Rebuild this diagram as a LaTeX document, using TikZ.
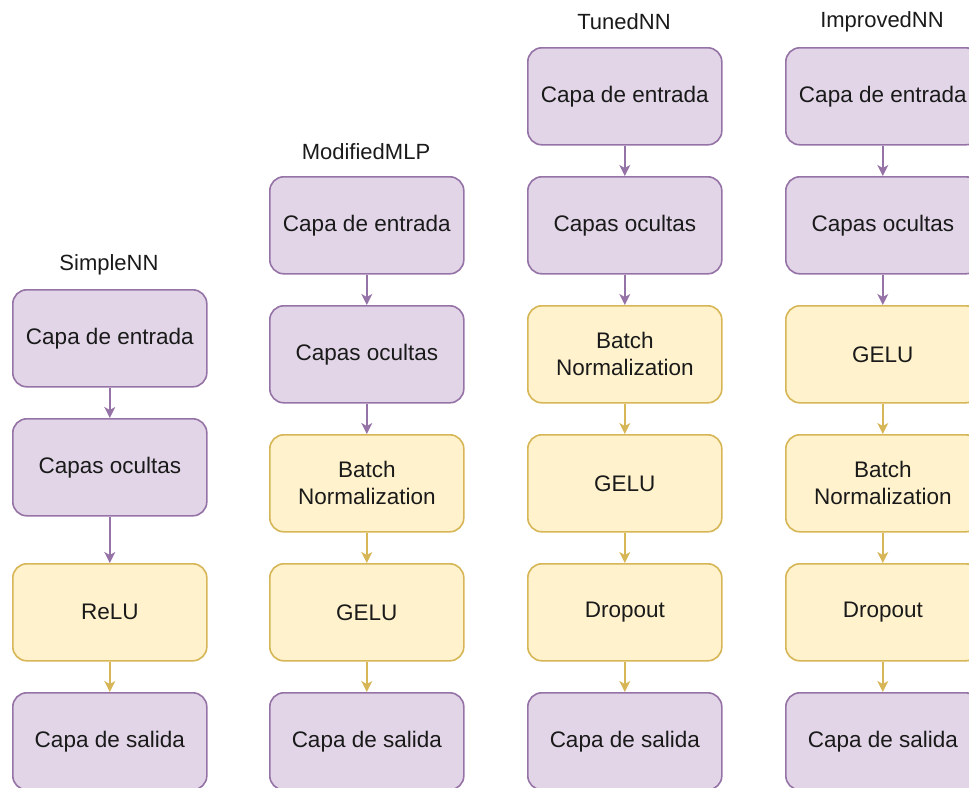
\documentclass[tikz,border=0pt]{standalone}
\usepackage{fontspec}
\setmainfont{Liberation Sans}
\usetikzlibrary{arrows.meta}
\definecolor{pfill}{HTML}{E1D5E7}
\definecolor{pdraw}{HTML}{9673A6}
\definecolor{yfill}{HTML}{FFF2CC}
\definecolor{ydraw}{HTML}{D6B656}
\definecolor{txt}{HTML}{1A1A1A}
\tikzset{
  box/.style={rectangle, rounded corners=14pt, minimum width=194pt, minimum height=97pt,
    line width=1.6pt, anchor=north west, align=center, inner sep=0pt, text=txt,
    font=\fontsize{22.5}{27}\selectfont},
  pbox/.style={box, fill=pfill, draw=pdraw},
  ybox/.style={box, fill=yfill, draw=ydraw},
  ttl/.style={anchor=center, text=txt, font=\fontsize{22}{27}\selectfont, inner sep=0pt},
  arr/.style={line width=1.6pt, -{Stealth[length=11pt,width=11pt,inset=3pt]}},
  parr/.style={arr, draw=pdraw, fill=pdraw},
  yarr/.style={arr, draw=ydraw, fill=ydraw},
}
\begin{document}
\begin{tikzpicture}[x=1pt,y=-1pt]
\useasboundingbox (0,0) rectangle (969,787);
% SimpleNN
\node[ttl] (t1) at (109,265) {SimpleNN};
\node[pbox] (a1) at (12,289) {Capa de entrada};
\node[pbox] (a2) at (12,418) {Capas ocultas};
\node[ybox] (a3) at (12,563) {ReLU};
\node[pbox] (a4) at (12,692) {Capa de salida};
\draw[parr] (a1.south) -- (a2.north);
\draw[parr] (a2.south) -- (a3.north);
\draw[yarr] (a3.south) -- (a4.north);
% ModifiedMLP
\node[ttl] (t2) at (366,152) {ModifiedMLP};
\node[pbox] (b1) at (269,176) {Capa de entrada};
\node[pbox] (b2) at (269,305) {Capas ocultas};
\node[ybox] (b3) at (269,434) {Batch\\Normalization};
\node[ybox] (b4) at (269,563) {GELU};
\node[pbox] (b5) at (269,692) {Capa de salida};
\draw[parr] (b1.south) -- (b2.north);
\draw[parr] (b2.south) -- (b3.north);
\draw[yarr] (b3.south) -- (b4.north);
\draw[yarr] (b4.south) -- (b5.north);
% TunedNN
\node[ttl] (t3) at (624,22) {TunedNN};
\node[pbox] (c1) at (527,47) {Capa de entrada};
\node[pbox] (c2) at (527,176) {Capas ocultas};
\node[ybox] (c3) at (527,305) {Batch\\Normalization};
\node[ybox] (c4) at (527,434) {GELU};
\node[ybox] (c5) at (527,563) {Dropout};
\node[pbox] (c6) at (527,692) {Capa de salida};
\draw[parr] (c1.south) -- (c2.north);
\draw[parr] (c2.south) -- (c3.north);
\draw[yarr] (c3.south) -- (c4.north);
\draw[yarr] (c4.south) -- (c5.north);
\draw[yarr] (c5.south) -- (c6.north);
% ImprovedNN
\node[ttl] (t4) at (882,22) {ImprovedNN};
\node[pbox] (d1) at (785,47) {Capa de entrada};
\node[pbox] (d2) at (785,176) {Capas ocultas};
\node[ybox] (d3) at (785,305) {GELU};
\node[ybox] (d4) at (785,434) {Batch\\Normalization};
\node[ybox] (d5) at (785,563) {Dropout};
\node[pbox] (d6) at (785,692) {Capa de salida};
\draw[parr] (d1.south) -- (d2.north);
\draw[parr] (d2.south) -- (d3.north);
\draw[yarr] (d3.south) -- (d4.north);
\draw[yarr] (d4.south) -- (d5.north);
\draw[yarr] (d5.south) -- (d6.north);
\end{tikzpicture}
\end{document}
